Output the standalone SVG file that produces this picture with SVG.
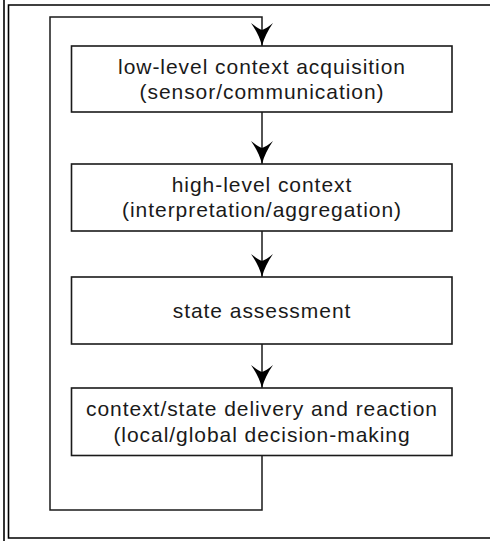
<svg xmlns="http://www.w3.org/2000/svg" width="490" height="541" viewBox="0 0 490 541">
<defs>
<style>
.box{fill:#fff;stroke:#1a1a1a;stroke-width:1.6}
.frame{fill:none;stroke:#000;stroke-width:1.6}
.con{fill:none;stroke:#1a1a1a;stroke-width:1.5}
.lbl{font-family:"Liberation Sans",Arial,sans-serif;font-size:21px;letter-spacing:0.95px;fill:#1a1a1a;text-anchor:middle}
</style>
<path id="ah" d="M0 0 C-2 -8 -6 -16 -11 -23 C-6 -19 -3 -17 0 -16 C3 -17 6 -19 11 -23 C6 -16 2 -8 0 0 Z" fill="#000"/>
</defs>
<rect width="490" height="541" fill="#fff"/>
<g id="frame">
<line class="frame" x1="4" y1="0" x2="4" y2="541"/>
<path class="frame" d="M492 5 H8.5 V538 H492"/>
</g>
<g id="connectors">
<path class="con" d="M262 456 V510 H50 V17 H262 V46"/>
<line class="con" x1="262" y1="112" x2="262" y2="164"/>
<line class="con" x1="262" y1="231" x2="262" y2="277"/>
<line class="con" x1="262" y1="344" x2="262" y2="388"/>
<use href="#ah" x="262" y="46"/>
<use href="#ah" x="262" y="164"/>
<use href="#ah" x="262" y="277"/>
<use href="#ah" x="262" y="388"/>
</g>
<g id="n1">
<rect class="box" x="71.5" y="46" width="380.5" height="66"/>
<text class="lbl" x="262" y="74">low-level context acquisition</text>
<text class="lbl" x="262" y="99">(sensor/communication)</text>
</g>
<g id="n2">
<rect class="box" x="71.5" y="164" width="380.5" height="67"/>
<text class="lbl" x="262" y="192">high-level context</text>
<text class="lbl" x="262" y="217">(interpretation/aggregation)</text>
</g>
<g id="n3">
<rect class="box" x="71.5" y="277" width="380.5" height="67"/>
<text class="lbl" x="262" y="318">state assessment</text>
</g>
<g id="n4">
<rect class="box" x="71.5" y="388" width="380.5" height="67.5"/>
<text class="lbl" x="262" y="416">context/state delivery and reaction</text>
<text class="lbl" x="262" y="442">(local/global decision-making</text>
</g>
</svg>
